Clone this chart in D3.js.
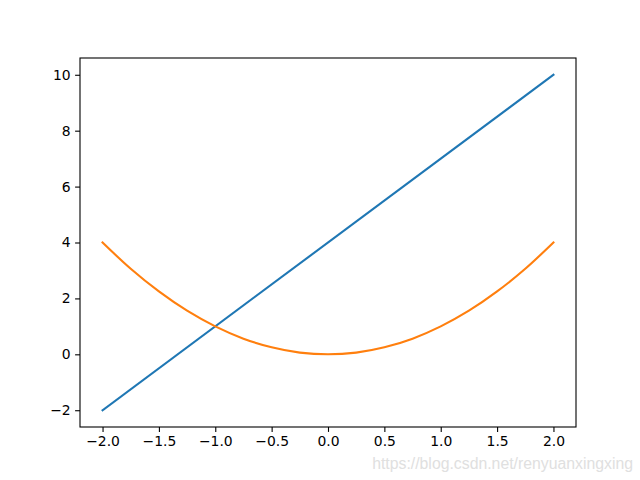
<!DOCTYPE html>
<html>
<head>
<meta charset="utf-8">
<script src="https://cdn.jsdelivr.net/npm/d3@7"></script>
<style>
  body { margin: 0; background: #fff; }
  svg { display: block; font-family: "DejaVu Sans", sans-serif; }
</style>
</head>
<body>
<div id="chart"></div>
<script>
var width = 640,
    height = 480;

// values
var lineX = [-2, 2];
var lineY = [-2, 10];

var curveX = [-2, -1.75, -1.5, -1.25, -1, -0.75, -0.5, -0.25, 0, 0.25, 0.5, 0.75, 1, 1.25, 1.5, 1.75, 2];
var curveY = [4, 3.06, 2.25, 1.56, 1, 0.56, 0.25, 0.06, 0, 0.06, 0.25, 0.56, 1, 1.56, 2.25, 3.06, 4];

var xTicks = [-2, -1.5, -1, -0.5, 0, 0.5, 1, 1.5, 2];
var yTicks = [-2, 0, 2, 4, 6, 8, 10];

var margin = {left: 80, right: 64, top: 58, bottom: 53};

var svg = d3.select("#chart").append("svg")
    .attr("width", width)
    .attr("height", height);

var x = d3.scaleLinear().domain([-2.2, 2.2]).range([margin.left, width - margin.right]);
var y = d3.scaleLinear().domain([-2.6, 10.6]).range([height - margin.bottom, margin.top]);

function fmt(d, digits) {
  return d3.format(digits)(d).replace("-", "\u2212");
}

var xAxis = svg.append("g")
    .attr("transform", "translate(0," + (height - margin.bottom) + ")")
    .call(d3.axisBottom(x).tickValues(xTicks).tickSize(4.9).tickPadding(4.5)
      .tickFormat(function(d) { return fmt(d, ".1f"); }));

var yAxis = svg.append("g")
    .attr("transform", "translate(" + margin.left + ",0)")
    .call(d3.axisLeft(y).tickValues(yTicks).tickSize(4.9).tickPadding(4.5)
      .tickFormat(function(d) { return fmt(d, "d"); }));

[xAxis, yAxis].forEach(function(g) {
  g.select(".domain").remove();
  g.selectAll(".tick line").attr("stroke", "#000").attr("stroke-width", 1.1);
  g.selectAll(".tick text").attr("fill", "#000").style("font-size", "13.9px")
    .style("font-family", "DejaVu Sans, sans-serif");
});

// frame
svg.append("rect")
    .attr("x", margin.left)
    .attr("y", margin.top)
    .attr("width", width - margin.left - margin.right)
    .attr("height", height - margin.top - margin.bottom)
    .attr("fill", "none")
    .attr("stroke", "#000")
    .attr("stroke-width", 1.1);

var line = d3.line()
    .x(function(d) { return x(d[0]); })
    .y(function(d) { return y(d[1]); });

svg.append("path")
    .datum(d3.zip(lineX, lineY))
    .attr("fill", "none")
    .attr("stroke", "#1f77b4")
    .attr("stroke-width", 2.1)
    .attr("stroke-linecap", "square")
    .attr("d", line);

svg.append("path")
    .datum(d3.zip(curveX, curveY))
    .attr("fill", "none")
    .attr("stroke", "#ff7f0e")
    .attr("stroke-width", 2.1)
    .attr("stroke-linecap", "square")
    .attr("d", line.curve(d3.curveMonotoneX));

// watermark
svg.append("text")
    .attr("x", 633)
    .attr("y", 469)
    .attr("text-anchor", "end")
    .attr("fill", "#e0e0e0")
    .style("font-family", "Arial, Liberation Sans, sans-serif")
    .style("font-size", "15.8px")
    .text("https://blog.csdn.net/renyuanxingxing");
</script>
</body>
</html>
